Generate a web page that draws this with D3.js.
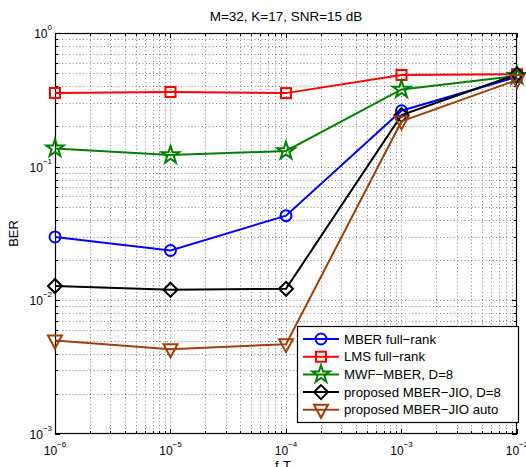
<!DOCTYPE html>
<html><head><meta charset="utf-8">
<script src="https://cdn.jsdelivr.net/npm/d3@7"></script>
<style>body{margin:0;background:#fff}svg{display:block;font-family:"Liberation Sans",Arial,sans-serif}</style>
</head><body>
<svg id="c" width="526" height="467"></svg>
<script>
const fdT = [1e-6, 1e-5, 1e-4, 1e-3, 1e-2];
const mberFull = [0.0298, 0.0236, 0.0430, 0.262, 0.470];
const lmsFull = [0.356, 0.362, 0.355, 0.485, 0.492];
const mwfMber = [0.137, 0.122, 0.131, 0.378, 0.478];
const jioD8 = [0.0128, 0.0120, 0.0122, 0.243, 0.490];
const jioAuto = [0.0050, 0.0043, 0.0047, 0.218, 0.445];
const seriesNames = ["MBER full\u2212rank","LMS full\u2212rank","MWF\u2212MBER, D=8","proposed MBER\u2212JIO, D=8","proposed MBER\u2212JIO auto"];
const xTicks = [1e-6,1e-5,1e-4,1e-3,1e-2];
const xTickExp = ["\u22126","\u22125","\u22124","\u22123","\u22122"];
const yTicks = [1e-3,1e-2,1e-1,1];
const yTickExp = ["\u22123","\u22122","\u22121","0"];
const titleText = "M=32, K=17, SNR=15 dB";

const svg = d3.select("#c");
const L=55, R=517, T=33, B=434;
const x = d3.scaleLog().domain([1e-6,1e-2]).range([L,R]);
const y = d3.scaleLog().domain([1e-3,1]).range([B,T]);

const minorX=[], minorY=[];
for(let e=-6;e<-2;e++) for(let m=2;m<=9;m++) minorX.push(m*Math.pow(10,e));
for(let e=-3;e<0;e++) for(let m=2;m<=9;m++) minorY.push(m*Math.pow(10,e));

const grid = svg.append("g").attr("stroke","#666").attr("stroke-width",0.8).attr("stroke-dasharray","1,2.5");
grid.selectAll(".gx").data(xTicks.concat(minorX).filter(v=>v>1e-6&&v<1e-2)).enter().append("line")
  .attr("x1",d=>Math.round(x(d))+0.5).attr("x2",d=>Math.round(x(d))+0.5).attr("y1",T).attr("y2",B);
grid.selectAll(".gy").data(yTicks.concat(minorY).filter(v=>v>1e-3&&v<1)).enter().append("line")
  .attr("y1",d=>Math.round(y(d))+0.5).attr("y2",d=>Math.round(y(d))+0.5).attr("x1",L).attr("x2",R);

const tk = svg.append("g").attr("stroke","#000").attr("stroke-width",1);
function xt(vals,len){vals.forEach(v=>{const px=Math.round(x(v))+0.5;
  tk.append("line").attr("x1",px).attr("x2",px).attr("y1",B).attr("y2",B-len);
  tk.append("line").attr("x1",px).attr("x2",px).attr("y1",T).attr("y2",T+len);});}
function yt(vals,len){vals.forEach(v=>{const py=Math.round(y(v))+0.5;
  tk.append("line").attr("y1",py).attr("y2",py).attr("x1",L).attr("x2",L+len);
  tk.append("line").attr("y1",py).attr("y2",py).attr("x1",R).attr("x2",R-len);});}
xt(xTicks,5); xt(minorX,3); yt(yTicks,5); yt(minorY,3);

svg.append("rect").attr("x",L+0.5).attr("y",T+0.5).attr("width",R-L-1).attr("height",B-T-1)
  .attr("fill","none").attr("stroke","#000").attr("stroke-width",1.2);

const xl = svg.append("g").attr("font-size",12).attr("fill","#000");
xTicks.forEach((v,i)=>{
  const t = xl.append("text").attr("x",x(v)).attr("y",455).attr("text-anchor","middle");
  t.append("tspan").text("10");
  t.append("tspan").attr("font-size",8).attr("dy",-8).text(xTickExp[i]);
});
yTicks.forEach((v,i)=>{
  const t = xl.append("text").attr("x",L-3).attr("y",y(v)+5).attr("text-anchor","end");
  t.append("tspan").text("10");
  t.append("tspan").attr("font-size",8).attr("dy",-8).text(yTickExp[i]);
});

svg.append("text").attr("x",286).attr("y",21).attr("text-anchor","middle").attr("font-size",13.5).text(titleText);
svg.append("text").attr("transform","translate(18,"+((T+B)/2)+") rotate(-90)").attr("text-anchor","middle").attr("font-size",13).text("BER");
const xlab = svg.append("text").attr("x",275).attr("y",470).attr("font-size",13);
xlab.append("tspan").text("f");
xlab.append("tspan").attr("font-size",8).attr("dy",4).text("d");
xlab.append("tspan").attr("dy",-4).text("T");

const colors = ["#0000ff","#ff0000","#008000","#000000","#a0400a"];
const data = [mberFull,lmsFull,mwfMber,jioD8,jioAuto];
const shapes = ["circle","square","star","diamond","tri"];

function marker(g,shape,cx,cy){
  if(shape==="circle") g.append("circle").attr("cx",cx).attr("cy",cy).attr("r",5.5);
  else if(shape==="square") g.append("rect").attr("x",cx-5).attr("y",cy-5).attr("width",10).attr("height",10);
  else if(shape==="star") g.append("path").attr("transform",`translate(${cx},${cy})`).attr("d",d3.symbol(d3.symbolStar,95)());
  else if(shape==="diamond") g.append("path").attr("d",`M${cx},${cy-7}L${cx+7},${cy}L${cx},${cy+7}L${cx-7},${cy}Z`);
  else if(shape==="tri") g.append("path").attr("d",`M${cx-7},${cy-5}L${cx+7},${cy-5}L${cx},${cy+8}Z`);
}

const line = d3.line().x((d,i)=>x(fdT[i])).y(d=>y(d));
data.forEach((s,k)=>{
  const g = svg.append("g").attr("stroke",colors[k]).attr("stroke-width",2).attr("fill","none");
  g.append("path").attr("d",line(s));
  s.forEach((v,i)=>marker(g,shapes[k],x(fdT[i]),y(v)));
});

const lg = svg.append("g");
lg.append("rect").attr("x",297.5).attr("y",326.5).attr("width",221).attr("height",96).attr("fill","#fff").attr("stroke","#000").attr("stroke-width",1.2);
seriesNames.forEach((n,k)=>{
  const yy = 339 + k*17.7;
  const g = lg.append("g").attr("stroke",colors[k]).attr("stroke-width",2).attr("fill","none");
  g.append("line").attr("x1",303).attr("x2",339).attr("y1",yy).attr("y2",yy);
  marker(g,shapes[k],321,yy);
  lg.append("text").attr("x",344).attr("y",yy+4.5).attr("font-size",13.2).text(n);
});
</script>
</body></html>
